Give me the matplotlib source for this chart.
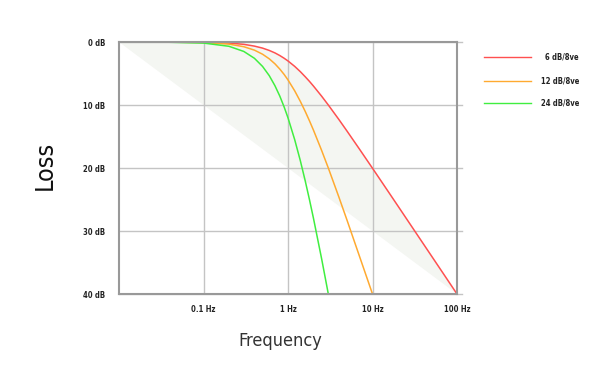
import matplotlib
matplotlib.use("Agg")
import matplotlib.pyplot as plt
from matplotlib.lines import Line2D

freq = [0.01, 0.03, 0.1, 0.2, 0.3, 0.4, 0.5, 0.6, 0.7, 0.8, 0.9, 1.0, 1.2, 1.4,
        1.6, 1.8, 2.0, 2.5, 3.0, 4.0, 5.0, 7.0, 10.0, 15.0, 20.0, 30.0, 50.0, 70.0, 100.0]
loss_6 = [0.0, 0.0, 0.04, 0.17, 0.37, 0.65, 0.97, 1.34, 1.73, 2.15, 2.58, 3.01, 3.87, 4.71,
          5.52, 6.27, 6.99, 8.60, 10.0, 12.30, 14.15, 16.99, 20.04, 23.54, 26.03, 29.55, 33.98, 36.90, 40.0]
loss_12 = [0.0, 0.0, 0.09, 0.34, 0.75, 1.29, 1.94, 2.67, 3.46, 4.30, 5.15, 6.02, 7.75, 9.43,
           11.03, 12.55, 13.98, 17.21, 20.0, 24.61, 28.30, 33.98, 40.0]
loss_24 = [0.0, 0.0, 0.17, 0.68, 1.50, 2.58, 3.88, 5.34, 6.93, 8.59, 10.31, 12.04, 15.50, 18.85,
           22.06, 25.10, 27.96, 34.41, 40.0]

series_labels = ["6 dB/8ve", "12 dB/8ve", "24 dB/8ve"]
series_colors = ["#ff5050", "#ffaa30", "#40ee40"]
x_ticks = [0.1, 1, 10, 100]
x_tick_labels = ["0.1 Hz", "1 Hz", "10 Hz", "100 Hz"]
y_ticks = [0, 10, 20, 30, 40]
y_tick_labels = ["0 dB", "10 dB", "20 dB", "30 dB", "40 dB"]

fam = ['DejaVu Sans']

W, H = 606, 371
fig = plt.figure(figsize=(W / 100, H / 100), dpi=100)
ax = fig.add_axes([119 / W, 1 - 294 / H, (457 - 119) / W, (294 - 42) / H])
ax.set_xscale('log')
ax.set_xlim(0.01, 100)
ax.set_ylim(40, 0)

# shaded region between 6 dB/8ve curve and straight diagonal
ax.fill(freq, loss_6, color="#f4f6f2", zorder=1, lw=0)

grid_c = "#c4c4c4"
for xv in x_ticks[:-1]:
    ax.axvline(xv, color=grid_c, lw=1.0, zorder=2)
for yv in y_ticks:
    ax.axhline(yv, xmin=0, xmax=1.016, color=grid_c, lw=1.0, zorder=2, clip_on=False)

series = [loss_6, loss_12, loss_24]
for vals, c in zip(series, series_colors):
    ax.plot(freq[:len(vals)], vals, color=c, lw=1.1, zorder=3, clip_on=False)

for s in ax.spines.values():
    s.set_color("#999999")
    s.set_linewidth(1.5)
    s.set_zorder(4)

ax.set_xticks(x_ticks)
ax.set_xticklabels(x_tick_labels)
ax.minorticks_off()
ax.set_yticks(y_ticks)
ax.set_yticklabels(y_tick_labels)
ax.tick_params(length=0, labelsize=5.5, colors="#222222")
ax.tick_params(axis='y', pad=10)
ax.tick_params(axis='x', pad=8)
for lab in ax.get_xticklabels() + ax.get_yticklabels():
    lab.set_fontfamily(fam)
    lab.set_fontstretch('condensed')
    lab.set_fontweight('bold')

fig.text(45 / W, 1 - 165 / H, "Loss", rotation=90, ha='center', va='center',
         fontsize=18, family=fam, fontstretch='condensed', color="#111111")
fig.text(280 / W, 1 - 341 / H, "Frequency", ha='center', va='center',
         fontsize=13, family=fam, fontstretch='condensed', color="#333333")

leg_y = [57, 81, 103]
for lab, c, yy in zip(series_labels, series_colors, leg_y):
    fig.add_artist(Line2D([484 / W, 531 / W], [1 - yy / H, 1 - yy / H], color=c, lw=1.0))
    fig.text(579 / W, 1 - yy / H, lab, ha='right', va='center', fontsize=5.5,
             family=fam, fontstretch='condensed', fontweight='bold', color="#222222")

fig.savefig("out.png", dpi=100)
